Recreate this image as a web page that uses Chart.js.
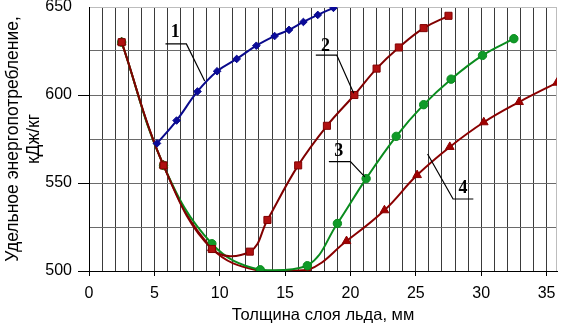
<!DOCTYPE html>
<html>
<head>
<meta charset="utf-8">
<script src="https://cdn.jsdelivr.net/npm/chart.js@4/dist/chart.umd.min.js"></script>
<style>
  html, body { margin: 0; padding: 0; background: #fff; }
  #wrap { width: 568px; height: 328px; }
</style>
</head>
<body>
<div id="wrap"><canvas id="c" width="568" height="328"></canvas></div>
<script>
// Ice layer thickness (mm) and specific energy consumption (kJ/kg), curves 1-4
const thickness1 = [5.2, 6.7, 8.3, 9.8, 11.3, 12.8, 14.2, 15.3, 16.4, 17.5, 18.7];
const energy1    = [572.5, 585.5, 602, 613.5, 620.5, 628, 633.5, 637, 641.5, 645.5, 649.5];

const thickness2 = [2.5, 5.7, 9.4, 12.3, 13.65, 16.0, 18.2, 20.3, 22.0, 23.7, 25.6, 27.5];
const energy2    = [630, 560, 512.5, 511, 529, 560, 582.5, 600, 615, 627, 638, 645];

const thickness3 = [2.5, 5.7, 9.4, 13.1, 16.7, 19.0, 21.2, 23.5, 25.6, 27.7, 30.1, 32.5];
const energy3    = [630, 560, 515.5, 500.7, 503, 527, 552.5, 576.5, 594.5, 609, 622.5, 632];

const thickness4 = [2.5, 5.7, 9.4, 13.1, 16.7, 19.7, 22.6, 25.1, 27.6, 30.2, 32.9, 35.8];
const energy4    = [630, 560, 513, 500, 500.5, 517, 534.5, 554.5, 570.5, 584.5, 596, 607];

// Axis tick labels
const xTickLabels = [0, 5, 10, 15, 20, 25, 30, 35];
const yTickLabels = [500, 550, 600, 650];

// Curve numbers with their leader lines (label, text anchor, underline span, end point), in data units
const callouts = [
  { text: '1', at: [6.6, 635.5], under: [5.85, 7.45, 629], end: [8.85, 608], from: 'right' },
  { text: '2', at: [18.1, 627.5], under: [17.35, 18.95, 622.7], end: [20.25, 601], from: 'right' },
  { text: '3', at: [19.1, 568], under: [18.35, 20.0, 562.2], end: [21.1, 553.5], from: 'right' },
  { text: '4', at: [28.6, 547], under: [27.85, 29.4, 540.9], end: [25.9, 566.5], from: 'left' }
];

const pts = (xs, ys) => xs.map((x, i) => ({ x: x, y: ys[i] }));

const calloutPlugin = {
  id: 'callouts',
  afterDatasetsDraw(chart) {
    const { ctx, scales: { x, y } } = chart;
    ctx.save();
    ctx.strokeStyle = '#000';
    ctx.lineWidth = 1.2;
    ctx.fillStyle = '#000';
    ctx.font = 'bold 18px "Liberation Serif", "Times New Roman", serif';
    ctx.textAlign = 'center';
    ctx.textBaseline = 'middle';
    callouts.forEach(c => {
      const [u0, u1, uy] = c.under;
      const far = c.from === 'left' ? u1 : u0;
      const near = c.from === 'left' ? u0 : u1;
      ctx.beginPath();
      ctx.moveTo(x.getPixelForValue(far), y.getPixelForValue(uy));
      ctx.lineTo(x.getPixelForValue(near), y.getPixelForValue(uy));
      ctx.lineTo(x.getPixelForValue(c.end[0]), y.getPixelForValue(c.end[1]));
      ctx.stroke();
      ctx.fillText(c.text, x.getPixelForValue(c.at[0]), y.getPixelForValue(c.at[1]));
    });
    ctx.restore();
  }
};

// Light grey frame on the right side of the plot area
const framePlugin = {
  id: 'frame',
  beforeDatasetsDraw(chart) {
    const { ctx, chartArea: a } = chart;
    ctx.save();
    ctx.strokeStyle = '#bdbdbd';
    ctx.lineWidth = 1;
    ctx.beginPath();
    ctx.moveTo(Math.round(a.right) - 0.5, a.top);
    ctx.lineTo(Math.round(a.right) - 0.5, a.bottom);
    ctx.stroke();
    ctx.restore();
  }
};

const FONT = '"Liberation Sans", Arial, sans-serif';

new Chart(document.getElementById('c'), {
  type: 'scatter',
  data: {
    datasets: [
      {
        label: '4', data: pts(thickness4, energy4), showLine: true, tension: 0.4,
        borderColor: '#8a0000', borderWidth: 2,
        pointStyle: 'triangle', pointRadius: 5, pointBackgroundColor: '#a00000', pointBorderColor: '#8a0000',
        pointBorderWidth: 1, order: 4
      },
      {
        label: '3', data: pts(thickness3, energy3), showLine: true, tension: 0.4,
        borderColor: '#0a8c1e', borderWidth: 2,
        pointStyle: 'circle', pointRadius: 4.2, pointBackgroundColor: '#109a28', pointBorderColor: '#0a8c1e',
        pointBorderWidth: 1, order: 3
      },
      {
        label: '2', data: pts(thickness2, energy2), showLine: true, tension: 0.4,
        borderColor: '#800000', borderWidth: 2,
        pointStyle: 'rect', pointRadius: 5, pointBackgroundColor: '#b01010', pointBorderColor: '#800000',
        pointBorderWidth: 1, order: 2
      },
      {
        label: '1', data: pts(thickness1, energy1), showLine: true, tension: 0.4,
        borderColor: '#0a0a8c', borderWidth: 2,
        pointStyle: 'rectRot', pointRadius: 3.8, pointBackgroundColor: '#0a0a9a', pointBorderColor: '#0a0a8c',
        pointBorderWidth: 1, order: 1
      }
    ]
  },
  options: {
    responsive: false,
    animation: false,
    layout: { padding: { top: 7, right: 11, left: 0, bottom: 0 } },
    plugins: { legend: { display: false }, tooltip: { enabled: false } },
    scales: {
      x: {
        type: 'linear', min: 0, max: 35.8,
        afterFit(scale) { scale.height = 57; scale.paddingLeft = 0; scale.paddingRight = 0; },
        ticks: {
          stepSize: 1, autoSkip: false, maxRotation: 0, padding: 8, includeBounds: false,
          color: '#000', font: { family: FONT, size: 16 },
          callback: v => xTickLabels.includes(v) ? String(v) : ''
        },
        grid: {
          color: '#3a3a3a',
          lineWidth: 1,
          tickLength: 5,
          tickColor: c => (c.tick && xTickLabels.includes(c.tick.value)) ? '#000' : 'rgba(0,0,0,0)'
        },
        border: { color: '#000', width: 1 },
        title: {
          display: true, text: 'Толщина слоя льда, мм', color: '#000',
          font: { family: FONT, size: 16.5 }, padding: { top: 2, bottom: 3 }
        }
      },
      y: {
        type: 'linear', min: 500, max: 650,
        afterFit(scale) { scale.width = 89; scale.paddingTop = 0; scale.paddingBottom = 0; },
        ticks: {
          stepSize: 25, padding: 6,
          color: '#000', font: { family: FONT, size: 16 },
          callback: v => yTickLabels.includes(v) ? String(v) : ''
        },
        grid: {
          color: c => (c.tick && c.tick.value === 650) ? '#bdbdbd' : '#6a6a6a',
          lineWidth: 1,
          tickLength: 11,
          tickColor: c => (c.tick && yTickLabels.includes(c.tick.value) && c.tick.value !== 650) ? '#000' : 'rgba(0,0,0,0)'
        },
        border: { color: '#000', width: 1 },
        title: {
          display: true, text: ['Удельное энергопотребление,', 'кДж/кг'], color: '#000',
          font: { family: FONT, size: 17.5 }, padding: { top: 3, bottom: 2 }
        }
      }
    }
  },
  plugins: [framePlugin, calloutPlugin]
});
</script>
</body>
</html>
